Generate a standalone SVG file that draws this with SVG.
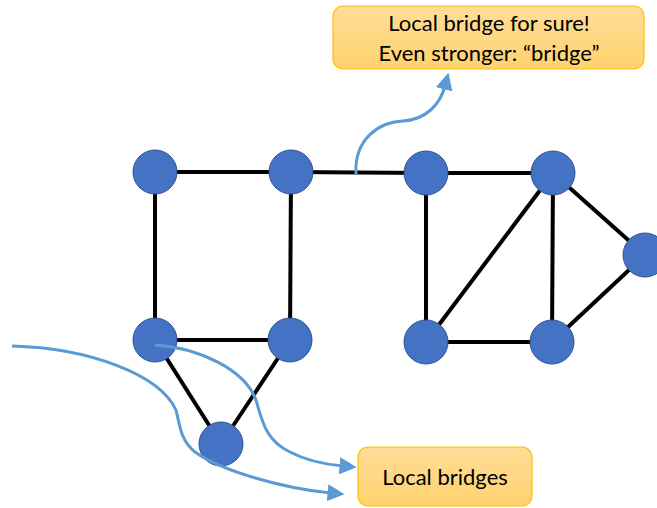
<svg xmlns="http://www.w3.org/2000/svg" width="657" height="508" viewBox="0 0 657 508">
<style>
.edge{stroke:#000;stroke-width:4;fill:none}
.node{fill:#4472C4;stroke:#2F528F;stroke-width:1}
.arrow{stroke:#5B9BD5;stroke-width:3;fill:none;marker-end:url(#ah)}
.box{fill:url(#gold);stroke:#FFC000;stroke-width:1.2}
.lbl{font-family:Lato,"Liberation Sans",sans-serif;font-size:22px;fill:#000;text-anchor:middle}
</style>
<defs>
<linearGradient id="gold" x1="0" y1="0" x2="0" y2="1">
<stop offset="0" stop-color="#FFDD99"/>
<stop offset="1" stop-color="#FFD26E"/>
</linearGradient>
<marker id="ah" viewBox="0 0 10 10" refX="2" refY="5" markerWidth="5.7" markerHeight="5.7" orient="auto" markerUnits="strokeWidth">
<path d="M0,0 L10,5 L0,10 z" fill="#5B9BD5"/>
</marker>
</defs>
<g id="edges">
<line class="edge" x1="155" y1="172" x2="291" y2="172"/>
<line class="edge" x1="291" y1="172" x2="426" y2="173"/>
<line class="edge" x1="426" y1="173" x2="553" y2="173"/>
<line class="edge" x1="155" y1="172" x2="155" y2="340"/>
<line class="edge" x1="291" y1="172" x2="290" y2="340"/>
<line class="edge" x1="155" y1="340" x2="290" y2="340"/>
<line class="edge" x1="155" y1="340" x2="221" y2="444"/>
<line class="edge" x1="290" y1="340" x2="221" y2="444"/>
<line class="edge" x1="426" y1="173" x2="426" y2="342"/>
<line class="edge" x1="553" y1="173" x2="426" y2="342"/>
<line class="edge" x1="553" y1="173" x2="552" y2="342"/>
<line class="edge" x1="553" y1="173" x2="645" y2="255"/>
<line class="edge" x1="426" y1="342" x2="552" y2="342"/>
<line class="edge" x1="552" y1="342" x2="645" y2="255"/>
</g>
<g id="node-a"><circle class="node" cx="155" cy="172" r="22"/></g>
<g id="node-b"><circle class="node" cx="291" cy="172" r="22"/></g>
<g id="node-c"><circle class="node" cx="426" cy="173" r="22"/></g>
<g id="node-d"><circle class="node" cx="553" cy="173" r="22"/></g>
<g id="node-e"><circle class="node" cx="645" cy="255" r="22"/></g>
<g id="node-f"><circle class="node" cx="155" cy="340" r="22"/></g>
<g id="node-g"><circle class="node" cx="290" cy="340" r="22"/></g>
<g id="node-h"><circle class="node" cx="426" cy="342" r="22"/></g>
<g id="node-i"><circle class="node" cx="552" cy="342" r="22"/></g>
<g id="node-j"><circle class="node" cx="221" cy="444" r="22"/></g>
<g id="connectors">
<path class="arrow" d="M356,174 C354,140 378,122 403,121 C425,120 440,105 445,86"/>
<path class="arrow" d="M12,346 C90,348 160,375 176,410 C180,425 180,440 195,452 C220,470 280,488 331,493"/>
<path class="arrow" d="M155,345 C200,348 245,370 256,400 C262,420 265,440 290,452 C305,460 320,464 343,466"/>
</g>
<g id="note-bridge">
<rect class="box" x="333" y="6" width="311" height="63" rx="10"/>
<text class="lbl" x="489" y="31">Local bridge for sure!</text>
<text class="lbl" x="489" y="61">Even stronger: “bridge”</text>
</g>
<g id="note-local">
<rect class="box" x="358" y="447" width="174" height="59" rx="10"/>
<text class="lbl" x="445" y="485">Local bridges</text>
</g>
</svg>
